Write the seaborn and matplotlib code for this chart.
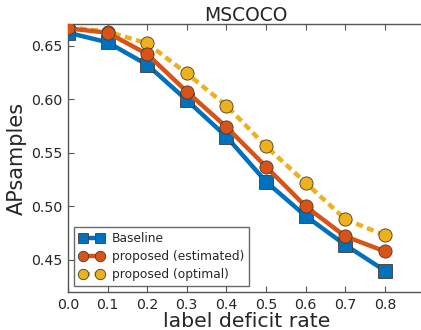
import matplotlib
matplotlib.use("Agg")
import matplotlib.pyplot as plt
import seaborn as sns
import pandas as pd

rates = [0.0, 0.1, 0.2, 0.3, 0.4, 0.5, 0.6, 0.7, 0.8]
baseline = [0.662, 0.653, 0.632, 0.599, 0.565, 0.523, 0.491, 0.464, 0.440]
estimated = [0.666, 0.662, 0.642, 0.607, 0.574, 0.537, 0.500, 0.472, 0.458]
optimal = [0.667, 0.663, 0.652, 0.624, 0.594, 0.556, 0.522, 0.488, 0.473]
series_names = ["Baseline", "proposed (estimated)", "proposed (optimal)"]
xticks = [0.0, 0.1, 0.2, 0.3, 0.4, 0.5, 0.6, 0.7, 0.8]
yticks = [0.45, 0.50, 0.55, 0.60, 0.65]

sns.set_style("white")
plt.rcParams['font.family'] = ['DejaVu Sans']

df = pd.DataFrame({
    "rate": rates * 3,
    "value": baseline + estimated + optimal,
    "series": [series_names[0]] * 9 + [series_names[1]] * 9 + [series_names[2]] * 9,
})

fig = plt.figure(figsize=(4.21, 3.30), dpi=100)
ax = fig.add_axes([0.1615, 0.115, 0.9406, 0.812])

colors = ["#0072BD", "#D95319", "#EDB120"]
markers = ["s", "o", "o"]
styles = ["-", "-", (0, (1.6, 1.0))]
for name, c, m, ls in zip(series_names, colors, markers, styles):
    sub = df[df["series"] == name]
    sns.lineplot(data=sub, x="rate", y="value", ax=ax, color=c, marker=m,
                 linestyle=ls, linewidth=3.2, markersize=9.5,
                 markeredgecolor="#4a3a2a", markeredgewidth=0.6,
                 label=name, zorder=3 if name != "proposed (optimal)" else 2)

ax.set_xlim(0.0, 1.0)
ax.set_ylim(0.42, 0.67)
ax.set_xticks(xticks)
ax.set_xticklabels([f"{v:.1f}" for v in xticks])
ax.set_yticks(yticks)
ax.set_yticklabels([f"{v:.2f}" for v in yticks])
ax.tick_params(axis="both", direction="in", length=4, width=0.8, color="#555555",
               labelsize=10.2, pad=4, top=True, bottom=True, left=True, right=False)
for s in ax.spines.values():
    s.set_color("#555555")
    s.set_linewidth(1.0)
ax.spines["right"].set_visible(False)
ax.set_title("MSCOCO", fontsize=13.5, pad=2, x=0.45)
ax.set_xlabel("label deficit rate", fontsize=14.7, labelpad=0)
ax.xaxis.set_label_coords(0.452, -0.075)
ax.set_ylabel("APsamples", fontsize=15, labelpad=3)

leg = ax.legend(loc="lower left", fontsize=8.8, frameon=True, fancybox=False,
                handlelength=2.0, numpoints=2, borderpad=0.4, labelspacing=0.4,
                handletextpad=0.7, bbox_to_anchor=(0.0, 0.0))
leg.get_frame().set_edgecolor("#444444")
leg.get_frame().set_linewidth(1.0)
for h in leg.legend_handles:
    h.set_markersize(7.5)

fig.savefig("out.png", dpi=100)
